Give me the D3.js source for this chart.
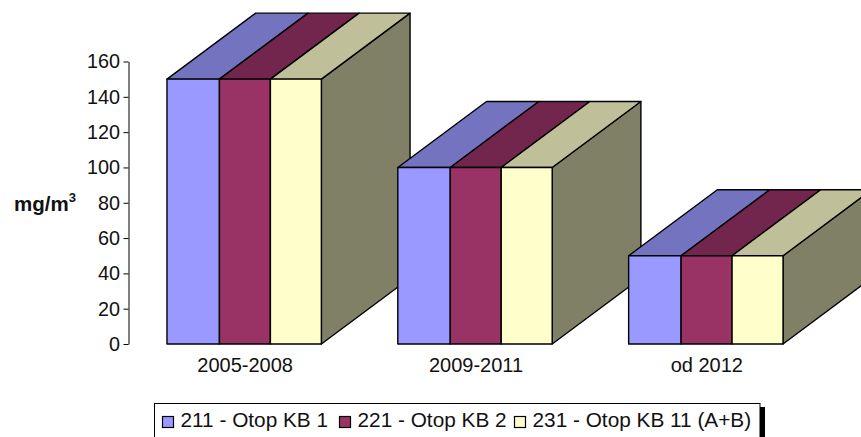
<!DOCTYPE html>
<html><head><meta charset="utf-8">
<script src="https://cdn.jsdelivr.net/npm/d3@7"></script>
<style>html,body{margin:0;padding:0;background:#fff;overflow:hidden}svg{display:block}text{font-family:"Liberation Sans",Arial,sans-serif;fill:#111}</style>
</head><body><svg id="c" width="861" height="437"></svg>
<script>
const categories = ["2005-2008","2009-2011","od 2012"];
const seriesNames = ["211 - Otop KB 1","221 - Otop KB 2","231 - Otop KB 11 (A+B)"];
const series1 = [150,100,50];
const series2 = [150,100,50];
const series3 = [150,100,50];
const yTicks = [0,20,40,60,80,100,120,140,160];
const frontColors = ["#9999ff","#993366","#ffffcc"];
const topColors = ["#7373bf","#73264d","#bfbf99"];
const sideColor = "#808066";
const yTitle = "mg/m";

const allSeries = [series1,series2,series3];
const svg = d3.select("#c");
const axisX = 128.5, baseY = 344, topY = 61.5;
const depthX = 88.7, depthY = 66;
const y = d3.scaleLinear().domain([0,160]).range([baseY,topY]);
const x0 = d3.scaleBand().domain(categories).range([axisX,axisX+693]).paddingInner(76.5/231).paddingOuter(38.5/231);
const x1 = d3.scaleBand().domain(d3.range(3)).range([0,x0.bandwidth()]);
const edgeNudge = [0,1,0.5,0];
const stroke = {stroke:"#000","stroke-width":1.4,"stroke-linejoin":"round"};
function poly(pts,fill){
  const p = svg.append("polygon").attr("points",pts.map(d=>d.join(",")).join(" ")).attr("fill",fill);
  Object.entries(stroke).forEach(([k,v])=>p.attr(k,v));
}
categories.forEach((c,i)=>{
  const gx = x0(c);
  allSeries.forEach((s,k)=>{
    const xl = gx+x1(k)+edgeNudge[k], xr = gx+x1(k)+x1.bandwidth()+edgeNudge[k+1], yt = y(s[i]), yb = y(0);
    if(k===2) poly([[xr,yb],[xr+depthX,yb-depthY],[xr+depthX,yt-depthY],[xr,yt]],sideColor);
    poly([[xl,yt],[xl+depthX,yt-depthY],[xr+depthX,yt-depthY],[xr,yt]],topColors[k]);
    poly([[xl,yb],[xl,yt],[xr,yt],[xr,yb]],frontColors[k]);
  });
  svg.append("text").attr("x",gx+x0.bandwidth()/2+1).attr("y",372).attr("text-anchor","middle").attr("font-size",20).text(c);
});
const yAxis = d3.axisLeft(y).tickValues(yTicks).tickSize(5).tickPadding(3.5).tickSizeOuter(0);
const ga = svg.append("g").attr("transform",`translate(${axisX},0)`).call(yAxis);
ga.selectAll("path,line").attr("stroke","#000").attr("stroke-width",1);
ga.selectAll("text").attr("font-size",19.8).attr("font-family",'"Liberation Sans",Arial,sans-serif').attr("fill","#111");
const t = svg.append("text").attr("x",14).attr("y",211).attr("font-size",20.5).attr("font-weight","bold").text(yTitle);
t.append("tspan").attr("dy",-9).attr("font-size",13).text("3");

// legend
svg.append("rect").attr("x",159).attr("y",407).attr("width",606).attr("height",40).attr("fill","#000");
svg.append("rect").attr("x",154.5).attr("y",403.5).attr("width",605.5).attr("height",40).attr("fill","#fff").attr("stroke","#000").attr("stroke-width",1);
const legendX = [162,339,514];
seriesNames.forEach((n,k)=>{
  svg.append("rect").attr("x",legendX[k]+0.5).attr("y",416.5).attr("width",11).attr("height",11).attr("fill",frontColors[k]).attr("stroke","#000").attr("stroke-width",1.2);
  svg.append("text").attr("x",legendX[k]+18.5).attr("y",427).attr("font-size",20.8).text(n);
});
</script></body></html>
